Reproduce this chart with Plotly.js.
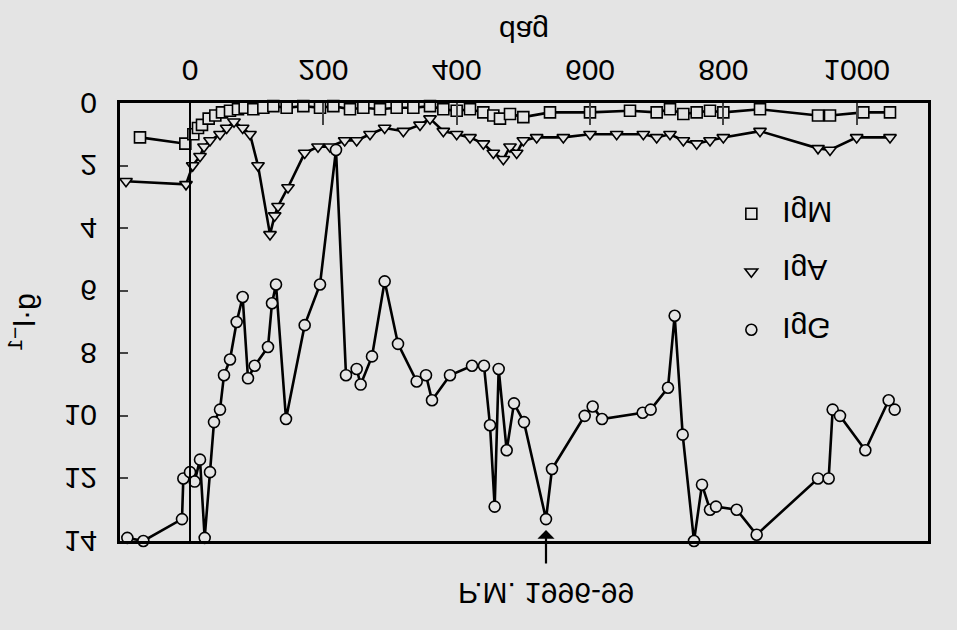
<!DOCTYPE html>
<html>
<head>
<meta charset="utf-8">
<script src="https://cdn.plot.ly/plotly-3.0.1.min.js"></script>
<style>
html,body{margin:0;padding:0;background:#e4e4e4;}
#chart{width:957px;height:630px;transform:scaleY(-1);transform-origin:50% 50%;}
</style>
</head>
<body>
<div id="chart"></div>
<script>
// IgG (circles)
const iggDays = [-94,-70,-12,-10,0,7,15,22,30,36,45,51,60,70,79,87,97,117,123,129,144,172,195,219,234,250,256,273,292,312,340,354,363,390,423,441,450,457,463,475,486,501,534,543,592,604,618,679,691,717,727,739,756,768,780,789,820,850,942,958,964,975,1013,1048,1057];
const iggVals = [13.9,14.0,13.3,12.0,11.8,12.1,11.4,13.9,11.8,10.2,9.8,8.7,8.2,7.0,6.2,8.8,8.4,7.8,6.4,5.8,10.1,7.1,5.8,1.5,8.7,8.5,9.0,8.1,5.7,7.7,8.9,8.7,9.5,8.7,8.4,8.4,10.3,12.9,8.5,11.1,9.6,10.2,13.3,11.7,10.0,9.7,10.1,9.9,9.8,9.1,6.8,10.6,14.0,12.2,13.0,12.9,13.0,13.8,12.0,12.0,9.8,10.0,11.1,9.5,9.8];
// IgA (triangles)
const igaDays = [-96,-6,4,15,21,30,45,55,66,79,90,102,120,127,132,147,172,192,210,232,250,270,292,320,345,360,380,400,420,440,455,470,480,490,500,520,560,600,640,680,700,720,740,760,780,800,855,942,960,1000,1050];
const igaVals = [2.5,2.6,2.0,1.7,1.4,1.2,1.0,0.8,0.6,0.8,1.0,2.0,4.2,3.6,3.3,2.7,1.6,1.4,1.4,1.2,1.2,1.0,0.8,0.9,0.7,0.5,0.9,1.0,1.1,1.3,1.6,1.8,1.4,1.6,1.2,1.1,1.1,1.0,1.0,1.0,1.1,1.0,1.2,1.3,1.2,1.1,0.9,1.45,1.5,1.1,1.1];
// IgM (squares)
const igmDays = [-75,-7,5,12,18,28,38,48,60,72,82,95,110,125,145,170,195,215,240,260,285,310,335,360,380,400,420,440,455,465,480,500,540,600,660,700,720,740,760,780,800,855,942,960,1010,1050];
const igmVals = [1.1,1.3,1.0,0.8,0.7,0.5,0.4,0.3,0.25,0.2,0.15,0.2,0.15,0.1,0.15,0.1,0.15,0.1,0.2,0.15,0.2,0.15,0.15,0.1,0.2,0.25,0.2,0.3,0.4,0.5,0.35,0.45,0.3,0.3,0.25,0.3,0.2,0.35,0.3,0.25,0.3,0.2,0.4,0.4,0.3,0.3];

const seriesNames = ["IgG","IgA","IgM"];
const xTicks = [0,200,400,600,800,1000];
const yTicks = [0,2,4,6,8,10,12,14];
const noteIndex = 42; // P.M. 1996-99 point in IgG

const BG = "#e4e4e4";
const FONT = "Liberation Sans, Arial, sans-serif";
function line(x,y,sym,name){
  return {x:x,y:y,mode:"lines+markers",name:name,showlegend:false,
    line:{color:"#000",width:2.6},
    marker:{symbol:sym,size:11,color:BG,line:{color:"#000",width:1.6}},
    cliponaxis:false};
}
function leg(sym,name){
  return {x:[null],y:[null],mode:"markers",name:name,legendgroup:name,
    marker:{symbol:sym,size:11,color:BG,line:{color:"#000",width:1.6}}};
}
const data = [
  line(igmDays,igmVals,"square",seriesNames[2]),
  line(igaDays,igaVals,"triangle-up",seriesNames[1]),
  line(iggDays,iggVals,"circle",seriesNames[0]),
  leg("circle",seriesNames[0]), leg("triangle-up",seriesNames[1]), leg("square",seriesNames[2])
];
const layout = {
  width:957,height:630,
  paper_bgcolor:BG,plot_bgcolor:BG,
  margin:{l:120,r:29,t:89,b:103},
  font:{family:FONT,size:30,color:"#000"},
  showlegend:true,
  legend:{x:0.743,y:0.577,xanchor:"left",yanchor:"top",bgcolor:"rgba(0,0,0,0)",
    tracegroupgap:16,font:{size:30},itemwidth:52},
  xaxis:{range:[-105,1107],tickvals:xTicks,ticks:"inside",ticklen:22,tickwidth:2,
    showgrid:false,zeroline:false,showline:true,linewidth:3,linecolor:"#000",mirror:true,
    ticklabelstandoff:4,
    title:{text:"dag",font:{size:30},standoff:14}},
  yaxis:{range:[0,14],tickvals:yTicks,ticks:"inside",ticklen:8,tickwidth:2,
    showgrid:false,zeroline:false,showline:true,linewidth:3,linecolor:"#000",mirror:true,
    ticklabelstandoff:14,
    title:{text:"g·l<sup>−1</sup>",font:{size:30},standoff:20}},
  shapes:[{type:"line",xref:"x",yref:"paper",x0:0,x1:0,y0:0,y1:1,line:{color:"#000",width:2}}],
  annotations:[
    {x:iggDays[noteIndex],y:iggVals[noteIndex],xref:"x",yref:"y",text:"",showarrow:true,
     ax:0,ay:-46,arrowhead:1,arrowsize:1.3,arrowwidth:2.2,arrowcolor:"#000",standoff:11},
    {x:iggDays[noteIndex],y:1.12,xref:"x",yref:"paper",text:"P.M. 1996-99",showarrow:false,
     yanchor:"middle",font:{size:30}}
  ]
};
Plotly.newPlot("chart",data,layout,{staticPlot:true});
</script>
</body>
</html>
